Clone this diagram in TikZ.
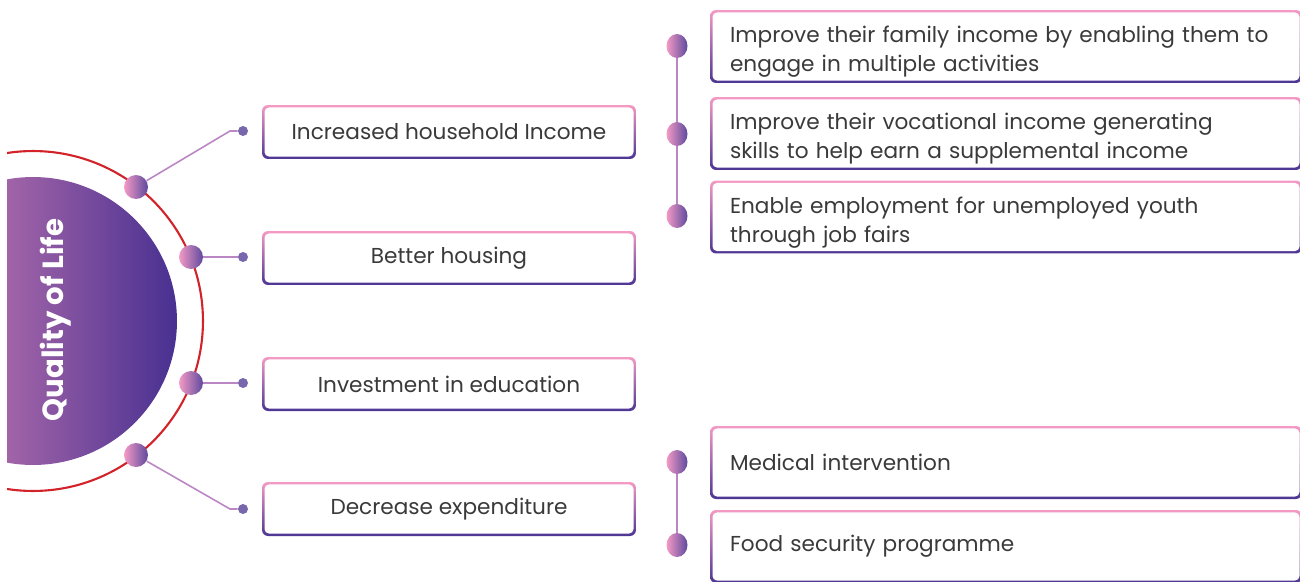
\documentclass[tikz,border=0pt]{standalone}
\usepackage{fontspec}
\setmainfont{Poppins}
\usepackage{tikz}
\usetikzlibrary{positioning,shapes.geometric}
\definecolor{qlpink}{RGB}{244,154,196}
\definecolor{qdpurple}{RGB}{76,53,147}
\definecolor{qlilac}{RGB}{224,136,184}
\definecolor{qindigo}{RGB}{72,48,145}
\definecolor{qred}{RGB}{210,35,42}
\definecolor{qline}{RGB}{186,134,196}
\definecolor{qtext}{RGB}{58,58,58}
\tikzset{
  item/.style={rectangle, rounded corners=0.12cm, top color=qlpink, bottom color=qdpurple,
    path picture={\fill[white, rounded corners=0.09cm]
      ([shift={(1.4pt,1.4pt)}]path picture bounding box.south west) rectangle
      ([shift={(-1.4pt,-1.4pt)}]path picture bounding box.north east);},
    text=qtext, font=\fontsize{12.3}{16.4}\selectfont},
  mainbox/.style={item, minimum width=7.48cm, minimum height=1.08cm, align=center},
  subbox/.style={item, minimum width=11.84cm, minimum height=1.46cm, text width=11.04cm,
    inner xsep=0.4cm, inner ysep=0pt, align=left},
  twoline/.style={subbox, text height=14pt, text depth=18pt},
  bigdot/.style={circle, minimum size=0.48cm, inner sep=0pt, left color=qlpink, right color=qdpurple!90},
  smalldot/.style={circle, minimum size=0.2cm, inner sep=0pt, fill=qdpurple!75},
  tdot/.style={ellipse, minimum width=0.42cm, minimum height=0.48cm, inner sep=0pt,
    left color=qlpink, right color=qdpurple!90},
  conn/.style={qline, line width=0.9pt},
  tline/.style={qline, line width=1.3pt}
}
\begin{document}
\begin{tikzpicture}[x=0.02cm, y=-0.02cm]
\useasboundingbox (0,0) rectangle (1300,581);

% half disk and ring
\begin{scope}
\clip (7,0) rectangle (400,581);
\shade[left color=qlilac, right color=qindigo] (33,321) circle (2.88cm);
\draw[qred, line width=1.2pt] (33,321) circle (3.4cm);
\end{scope}
\node[rotate=90, text=white, font=\bfseries\fontsize{16.6}{20}\selectfont] (title) at (56,320) {Quality of Life};

% dots on the ring
\node[bigdot] (q1) at (136,187) {};
\node[bigdot] (q2) at (191,257) {};
\node[bigdot] (q3) at (191,383) {};
\node[bigdot] (q4) at (136,455) {};
\node[smalldot] (s1) at (243,131) {};
\node[smalldot] (s2) at (243,257) {};
\node[smalldot] (s3) at (243,383) {};
\node[smalldot] (s4) at (243,509) {};
\draw[conn] (q1) -- ([xshift=-0.26cm]s1.center) -- (s1);
\draw[conn] (q2) -- (s2);
\draw[conn] (q3) -- (s3);
\draw[conn] (q4) -- ([xshift=-0.26cm]s4.center) -- (s4);

% main items
\node[mainbox] (income) at (449,132) {Increased household Income};
\node[mainbox] (housing) at (449,258) {Better housing};
\node[mainbox] (edu) at (449,384) {Investment in education};
\node[mainbox] (expense) at (449,509) {Decrease expenditure};

% income details
\node[tdot] (t1) at (677,46) {};
\node[tdot] (t2) at (677,134) {};
\node[tdot] (t3) at (677,216) {};
\draw[tline] (t1) -- (t2) -- (t3);
\node[twoline] (fam) at (1006,46.5) {Improve their family income by enabling them to\\engage in multiple activities};
\node[twoline] (voc) at (1006,133.5) {Improve their vocational income generating\\skills to help earn a supplemental income};
\node[twoline] (job) at (1006,217) {Enable employment for unemployed youth\\through job fairs};

% expenditure details
\node[tdot] (t4) at (677,462) {};
\node[tdot] (t5) at (677,545) {};
\draw[tline] (t4) -- (t5);
\node[subbox] (med) at (1006,462.5) {Medical intervention};
\node[subbox] (food) at (1006,546.5) {Food security programme};
\end{tikzpicture}
\end{document}
